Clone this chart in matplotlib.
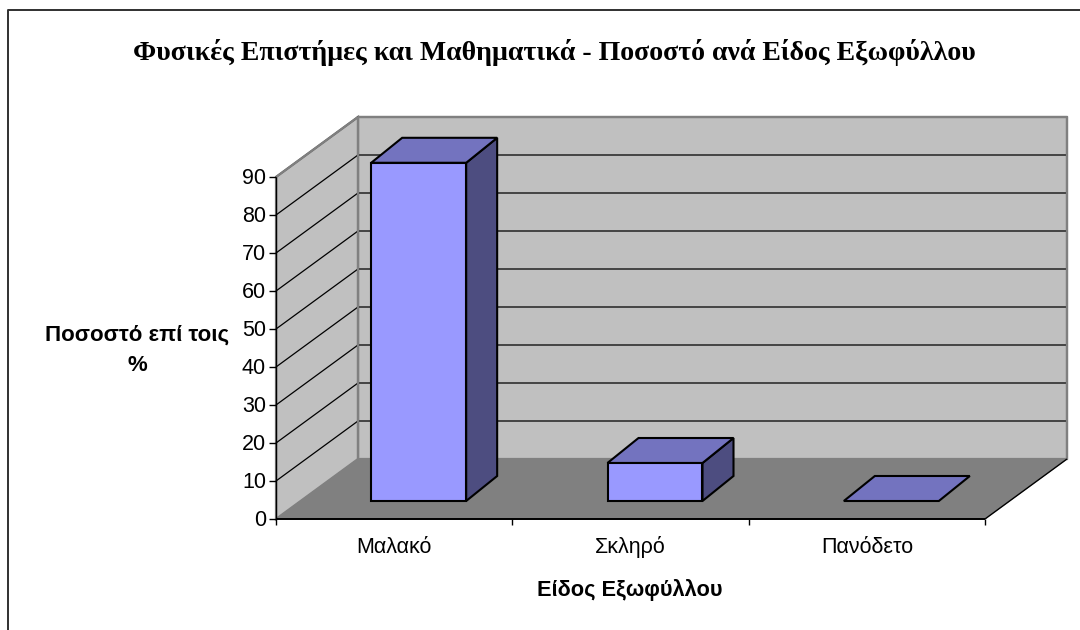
import matplotlib
matplotlib.use("Agg")
import matplotlib.pyplot as plt
from matplotlib.patches import Polygon

title = "Φυσικές Επιστήμες και Μαθηματικά - Ποσοστό ανά Είδος Εξωφύλλου"
xlabel = "Είδος Εξωφύλλου"
ylabel = "Ποσοστό επί τοις\n%"
categories = ["Μαλακό", "Σκληρό", "Πανόδετο"]
values = [89, 10, 0]
yticks = [0, 10, 20, 30, 40, 50, 60, 70, 80, 90]

W, H = 1080, 630
fig = plt.figure(figsize=(W / 100, H / 100), dpi=100)
fig.patch.set_facecolor("white")

# Front plane of the chart, in pixels of the figure
L, R, B, T = 276, 985, 519, 177
ax = fig.add_axes([L / W, 1 - B / H, (R - L) / W, (B - T) / H])
ax.set_xlim(0, len(categories))
ax.set_ylim(0, 90)
ax.axis("off")

ux = (R - L) / len(categories)
uy = (B - T) / 90
DX, DY = 82 / ux, 60 / uy       # full depth of the box, in data units
d0x, d0y = 24.5 / ux, 18 / uy   # bar front face offset
d1x, d1y = 31 / ux, 25 / uy     # bar depth
BW = 95 / ux
n = len(categories)
GRAY = "#808080"


def poly(pts, fc, ec, lw, z):
    ax.add_patch(Polygon(pts, closed=True, fc=fc, ec=ec, lw=lw, zorder=z,
                         clip_on=False, joinstyle="miter"))


def line(xs, ys, c="black", lw=1.0, z=3):
    ax.plot(xs, ys, color=c, lw=lw, zorder=z, clip_on=False,
            solid_capstyle="butt")


# Back wall, side wall, floor
poly([(DX, DY), (n + DX, DY), (n + DX, 90 + DY), (DX, 90 + DY)], "#C0C0C0", GRAY, 1.6, 1)
poly([(0, 0), (DX, DY), (DX, 90 + DY), (0, 90)], "#C0C0C0", GRAY, 1.6, 1)
poly([(0, 0), (n, 0), (n + DX, DY), (DX, DY)], GRAY, GRAY, 0.5, 2)

# Gridlines
for t in yticks[1:]:
    line([0, DX, n + DX], [t, t + DY, t + DY], lw=0.9)
line([n, n + DX], [0, DY], lw=1.0, z=4)
line([DX, DX], [0 + DY, 90 + DY], c=GRAY, lw=1.6)
line([n + DX, n + DX], [DY, 90 + DY], c=GRAY, lw=1.6)
line([DX, n + DX], [90 + DY, 90 + DY], c=GRAY, lw=1.6)
line([0, DX], [90, 90 + DY], c=GRAY, lw=1.6)

# Bars
for i, v in enumerate(values):
    x0 = i + 0.5 - BW / 2 + d0x
    x1 = x0 + BW
    y0 = d0y
    y1 = d0y + v
    if v > 0:
        poly([(x0, y0), (x1, y0), (x1, y1), (x0, y1)], "#9999FF", "black", 1.5, 6)
        poly([(x1, y0), (x1 + d1x, y0 + d1y), (x1 + d1x, y1 + d1y), (x1, y1)], "#4D4D80", "black", 1.5, 5)
    poly([(x0, y1), (x1, y1), (x1 + d1x, y1 + d1y), (x0 + d1x, y1 + d1y)], "#7373BF", "black", 1.5, 5)

# Axes lines and ticks
line([0, 0], [0, 90], lw=1.0, z=7)
line([0, n], [0, 0], lw=1.4, z=7)
tx = 7 / ux
ty = 6 / uy
for t in yticks:
    line([-tx, 0], [t, t], lw=1.0, z=7)
    ax.text(-10 / ux, t - 7.5 / uy, str(t), ha="right", va="baseline", fontsize=15.5,
            family="Liberation Sans", color="black", clip_on=False)
for i in range(n + 1):
    line([i, i], [0, -ty], lw=1.0, z=7)
for i, c in enumerate(categories):
    ax.text(i + 0.5, -34 / uy, c, ha="center", va="baseline", fontsize=15.5,
            family="Liberation Sans", color="black", clip_on=False)

# Texts and frame (figure coordinates)
fig.text(554 / W, 1 - 53 / H, title, ha="center", va="center", fontsize=20.1,
         family="Liberation Serif", fontweight="bold")
fig.text(137 / W, 1 - 350 / H, ylabel, ha="center", va="center", fontsize=16,
         family="Liberation Sans", fontweight="bold", linespacing=1.6)
fig.text(630 / W, 1 - 590 / H, xlabel, ha="center", va="center", fontsize=15.7,
         family="Liberation Sans", fontweight="bold")

fax = fig.add_axes([0, 0, 1, 1], zorder=-1)
fax.set_xlim(0, W)
fax.set_ylim(H, 0)
fax.axis("off")
fax.plot([8, 8, W], [H, 10, 10], color="#303030", lw=1.4)

fig.savefig("out.png", dpi=100)
